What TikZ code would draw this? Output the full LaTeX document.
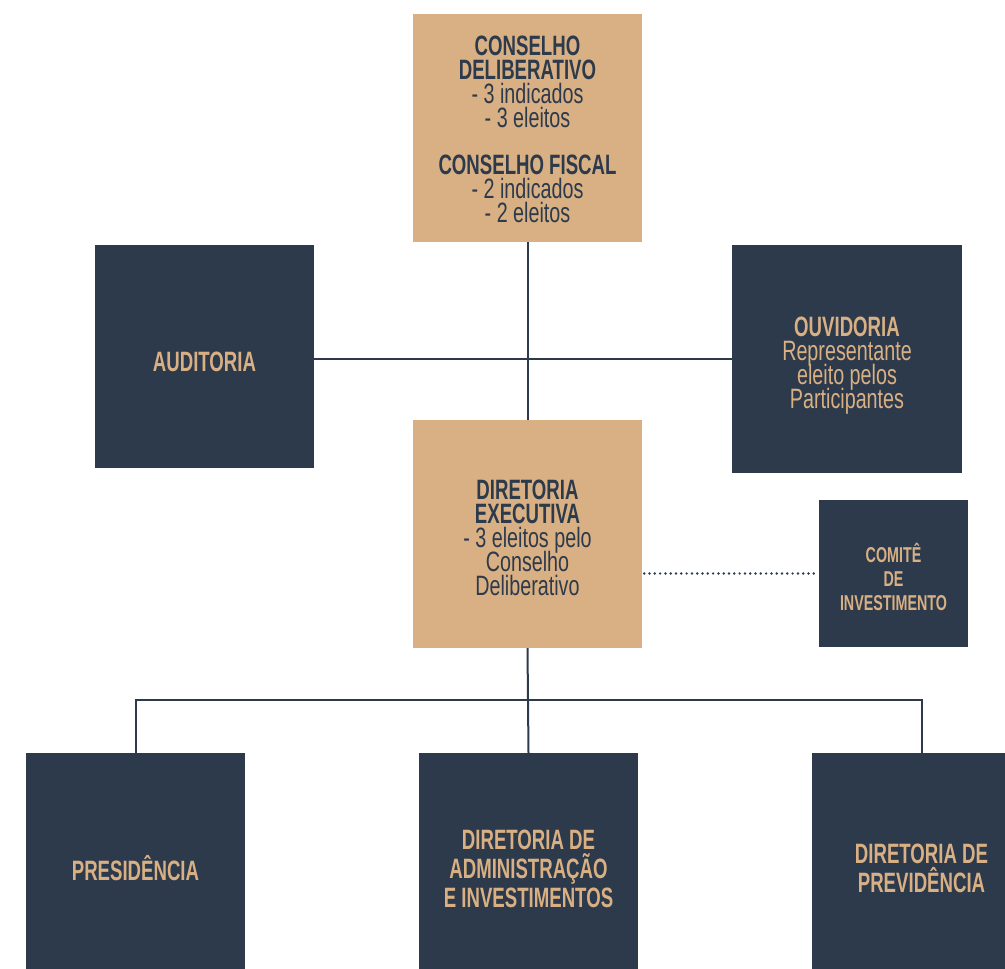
\documentclass[tikz,border=0pt]{standalone}
\usepackage{fontspec}
\setmainfont[FakeStretch=0.705,BoldFeatures={FakeStretch=0.665}]{Liberation Sans}
\definecolor{navy}{HTML}{2D3A4C}
\definecolor{tan}{HTML}{D8B083}
\newcommand\mytightlines{\lineskiplimit=-60pt\relax\lineskip=0pt\relax}
\tikzset{
  box/.style={rectangle, inner sep=0pt},
  tanbox/.style={box, fill=tan},
  navybox/.style={box, fill=navy},
  lbl/.style={inner sep=0pt, align=center, anchor=base},
  f24/.style={font=\fontsize{28}{24}\selectfont\mytightlines},
  fbot/.style={font=\fontsize{28}{29}\selectfont\bfseries\mytightlines},
  fsmall/.style={font=\fontsize{21.5}{24}\selectfont\bfseries\mytightlines},
  link/.style={draw=navy, line width=2pt},
  dotlink/.style={draw=navy, line width=2.7pt, line cap=round, dash pattern=on 0pt off 5.3pt}
}
\begin{document}
\begin{tikzpicture}[x=1pt,y=-1pt]
\path[use as bounding box, clip] (0,0) rectangle (1005,969);
\node[tanbox, minimum width=229pt, minimum height=228pt] (cons) at (527.5,128) {};
\node[navybox, minimum width=219pt, minimum height=223pt] (aud) at (204.5,356.5) {};
\node[navybox, minimum width=230pt, minimum height=228pt] (ouv) at (847,359) {};
\node[tanbox, minimum width=229pt, minimum height=228pt] (dir) at (527.5,534) {};
\node[navybox, minimum width=149pt, minimum height=147pt] (com) at (893.5,573.5) {};
\node[navybox, minimum width=219pt, minimum height=216pt] (pres) at (135.5,861) {};
\node[navybox, minimum width=219pt, minimum height=216pt] (adm) at (528.5,861) {};
\node[navybox, minimum width=219pt, minimum height=216pt] (prev) at (921.5,861) {};
\node[lbl, f24, text=navy] (consT) at ([yshift=-209pt]cons.north)
  {\textbf{CONSELHO}\\\textbf{DELIBERATIVO}\\- 3 indicados\\- 3 eleitos\\[23pt]\textbf{CONSELHO FISCAL}\\- 2 indicados\\- 2 eleitos};
\node[lbl, f24, text=tan] (audT) at ([yshift=-14.5pt]aud.center) {\textbf{AUDITORIA}};
\node[lbl, f24, text=tan] (ouvT) at ([yshift=-49pt]ouv.center)
  {\textbf{OUVIDORIA}\\Representante\\eleito pelos\\Participantes};
\node[lbl, f24, text=navy] (dirT) at ([yshift=-61pt]dir.center)
  {\textbf{DIRETORIA}\\\textbf{EXECUTIVA}\\- 3 eleitos pelo\\Conselho\\Deliberativo};
\node[lbl, fsmall, text=tan] (comT) at ([yshift=-36.5pt]com.center) {COMITÊ\\DE\\INVESTIMENTO};
\node[lbl, fbot, text=tan] (presT) at ([yshift=-19pt]pres.center) {PRESIDÊNCIA};
\node[lbl, fbot, text=tan] (admT) at ([yshift=-46pt]adm.center) {DIRETORIA DE\\ADMINISTRAÇÃO\\E INVESTIMENTOS};
\node[lbl, fbot, text=tan] (prevT) at ([yshift=-31pt]prev.center) {DIRETORIA DE\\PREVIDÊNCIA};
\coordinate (bus) at (528,700);
\draw[link] (cons.south) -- (dir.north);
\draw[link] (aud.east |- ouv.west) -- (ouv.west);
\draw[link] (dir.south) -- (adm.north);
\draw[link] (pres.north) |- (bus) -| (prev.north);
\draw[dotlink] ([xshift=2pt]dir.east |- com.west) -- (com.west);
\end{tikzpicture}
\end{document}
